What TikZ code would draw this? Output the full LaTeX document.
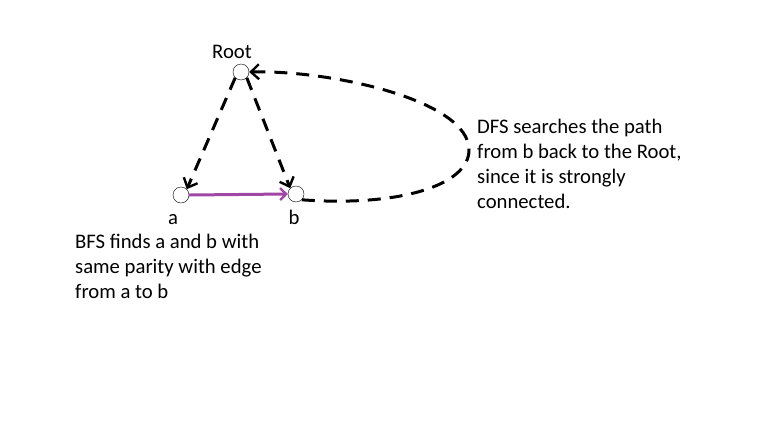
\documentclass[tikz,border=0pt]{standalone}
\usepackage{fontspec}
\setmainfont{Carlito}
\usetikzlibrary{arrows.meta,positioning}

\begin{document}
\begin{tikzpicture}[x=1pt,y=-1pt,
    vertex/.style={circle,draw,thin,minimum size=16pt,inner sep=0pt},
    search/.style={line width=3pt,dash pattern=on 13pt off 9pt,-{Straight Barb[length=8pt,width=15pt,line width=2.4pt]}},
    edgeab/.style={line width=3pt,draw={rgb,255:red,160;green,70;blue,165},-{Straight Barb[length=6pt,width=12pt,line width=2.4pt]}},
    note/.style={align=left,anchor=base west,inner sep=0pt,font=\fontsize{20.7}{25}\selectfont},
    tag/.style={inner sep=0pt,anchor=base,font=\fontsize{20.7}{25}\selectfont}]
    \useasboundingbox (0,0) rectangle (771,426);
    % graph
    \node[vertex] (root) at (241,72) {};
    \node[vertex] (a) at (181,195) {};
    \node[vertex] (b) at (296,194) {};
    \node[tag] (rootlabel) at (232,58) {Root};
    \node[tag] (alabel) at (173,224) {a};
    \node[tag] (blabel) at (294,224) {b};

    \draw[search] (root.south west) -- (a.north east);
    \draw[search] (root.south east) -- (b.north west);
    \draw[edgeab] (a.east) -- (b.west);
    \draw[search] (b.south east) .. controls (400,207) and (469,185) .. (469,150)
        .. controls (469,100) and (330,70) .. (root.east);

    % notes (anchored at the last line)
    \node[note] (dfsnote) at (477,208) {DFS searches the path\\from b back to the Root,\\since it is strongly\\connected.};
    \node[note] (bfsnote) at (75,298) {BFS finds a and b with\\same parity with edge\\from a to b};
\end{tikzpicture}
\end{document}
